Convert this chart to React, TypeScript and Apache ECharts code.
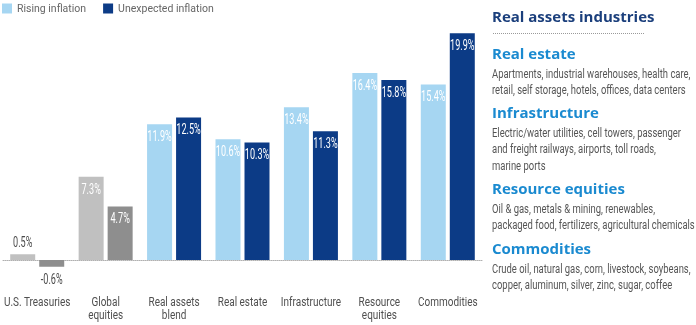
import React, { useEffect, useRef } from "react";
import * as echarts from "echarts";

const categories = [
  "U.S. Treasuries",
  "Global\nequities",
  "Real assets\nblend",
  "Real estate",
  "Infrastructure",
  "Resource\nequities",
  "Commodities",
];
const risingInflation = [0.5, 7.3, 11.9, 10.6, 13.4, 16.4, 15.4];
const unexpectedInflation = [-0.6, 4.7, 12.5, 10.3, 11.3, 15.8, 19.9];
const seriesNames = ["Rising inflation", "Unexpected inflation"];

const panelTitle = "Real assets industries";
const sectionHeadings = ["Real estate", "Infrastructure", "Resource equities", "Commodities"];
const sectionLines = [
  ["Apartments, industrial warehouses, health care,", "retail, self storage, hotels, offices, data centers"],
  ["Electric/water utilities, cell towers, passenger", "and freight railways, airports, toll roads,", "marine ports"],
  ["Oil & gas, metals & mining, renewables,", "packaged food, fertilizers, agricultural chemicals"],
  ["Crude oil, natural gas, corn, livestock, soybeans,", "copper, aluminum, silver, zinc, sugar, coffee"],
];

const BODY = "Roboto, 'Noto Sans', sans-serif";
const HEAD = "'Open Sans', 'Noto Sans', sans-serif";

const LIGHT = "#A6D6F2";
const DARK = "#0C3B86";
const GREY_L = "#C0C0C0";
const GREY_D = "#8E8E8E";
const BAR_W = 25;
const BAR_GAP = 4;

export default function App() {
  const ref = useRef<HTMLDivElement>(null);
  useEffect(() => {
    if (!ref.current) return;
    const chart = echarts.init(ref.current, undefined, { renderer: "svg" });

    const colored = (vals: number[], color: string, grey: string) =>
      vals.map((v, i) => ({ value: v, itemStyle: { color: i < 2 ? grey : color } }));

    const labelData: number[][] = [];
    [risingInflation, unexpectedInflation].forEach((vals, s) =>
      vals.forEach((v, i) => labelData.push([i, v, s]))
    );

    const graphics: any[] = [];
    const X0 = 492;
    graphics.push({
      type: "text",
      x: X0,
      y: 16,
      style: { text: panelTitle, font: `bold 15px ${HEAD}`, fill: "#1B3F7C", verticalAlign: "middle" },
    });
    graphics.push({
      type: "line",
      shape: { x1: 493, y1: 33.5, x2: 645, y2: 33.5 },
      style: { stroke: "#9A9A9A", lineWidth: 1, lineDash: [1, 1] },
    });
    const headY = [53, 112, 188, 248];
    sectionHeadings.forEach((h, si) => {
      graphics.push({
        type: "text",
        x: X0,
        y: headY[si],
        style: { text: h, font: `bold 15px ${HEAD}`, fill: "#1A8AD0", verticalAlign: "middle" },
      });
      sectionLines[si].forEach((ln, li) => {
        graphics.push({
          type: "text",
          x: X0,
          y: headY[si] + 20 + li * 16.5,
          scaleX: 0.7,
          style: { text: ln, font: `13.5px ${BODY}`, fill: "#555555", verticalAlign: "middle" },
        });
      });
    });

    chart.setOption({
      animation: false,
      legend: {
        left: 2,
        top: 3,
        padding: 0,
        itemWidth: 10,
        itemHeight: 10,
        itemGap: 17,
        icon: "rect",
        textStyle: { color: "#666", fontFamily: BODY, fontSize: 10.5 },
        data: seriesNames,
      },
      grid: { left: 3, width: 479, top: 32, height: 262.2, outerBoundsMode: "none", containLabel: false },
      xAxis: {
        type: "category",
        data: categories,
        axisLine: { onZero: true, lineStyle: { color: "#B0B0B0", type: "dotted", width: 1 } },
        axisTick: { show: false },
        axisLabel: { show: false },
      },
      yAxis: {
        type: "value",
        min: -3,
        max: 20,
        show: false,
        splitLine: { show: false },
      },
      series: [
        {
          name: seriesNames[0],
          type: "bar",
          barWidth: BAR_W,
          barGap: (BAR_GAP / BAR_W) * 100 + "%",
          itemStyle: { color: LIGHT },
          data: colored(risingInflation, LIGHT, GREY_L),
        },
        {
          name: seriesNames[1],
          type: "bar",
          barWidth: BAR_W,
          itemStyle: { color: DARK },
          data: colored(unexpectedInflation, DARK, GREY_D),
        },
        {
          name: "valueLabels",
          type: "custom",
          silent: true,
          clip: false,
          z: 10,
          data: labelData,
          renderItem: (params: any, api: any) => {
            const ci = api.value(0);
            const v = api.value(1);
            const s = api.value(2);
            const pt = api.coord([ci, v]);
            const off = ((s === 0 ? -1 : 1) * (BAR_W + BAR_GAP)) / 2;
            let y: number;
            let fill = "#FFFFFF";
            if (ci === 0) {
              fill = "#4A4A4A";
              y = v >= 0 ? pt[1] - 12 : pt[1] + 12;
            } else {
              y = pt[1] + 12;
            }
            return {
              type: "text",
              x: pt[0] + off,
              y,
              scaleX: 0.65,
              style: {
                text: v.toFixed(1) + "%",
                font: `14px ${BODY}`,
                fill,
                align: "center",
                verticalAlign: "middle",
              },
            };
          },
        },
        {
          name: "categoryLabels",
          type: "custom",
          silent: true,
          clip: false,
          z: 10,
          data: categories.map((c, i) => [i, 0]),
          renderItem: (params: any, api: any) => {
            const pt = api.coord([api.value(0), 0]);
            return {
              type: "text",
              x: pt[0],
              y: pt[1] + 34.5,
              scaleX: 0.74,
              style: {
                text: categories[params.dataIndex],
                font: `13.5px ${BODY}`,
                lineHeight: 13.5,
                fill: "#4F4F4F",
                align: "center",
                verticalAlign: "top",
              },
            };
          },
        },
      ],
      graphic: graphics,
    });
    return () => chart.dispose();
  }, []);
  return (
    <div
      ref={ref}
      style={{ position: "fixed", left: 0, top: 0, width: 696, height: 325 }}
    />
  );
}
